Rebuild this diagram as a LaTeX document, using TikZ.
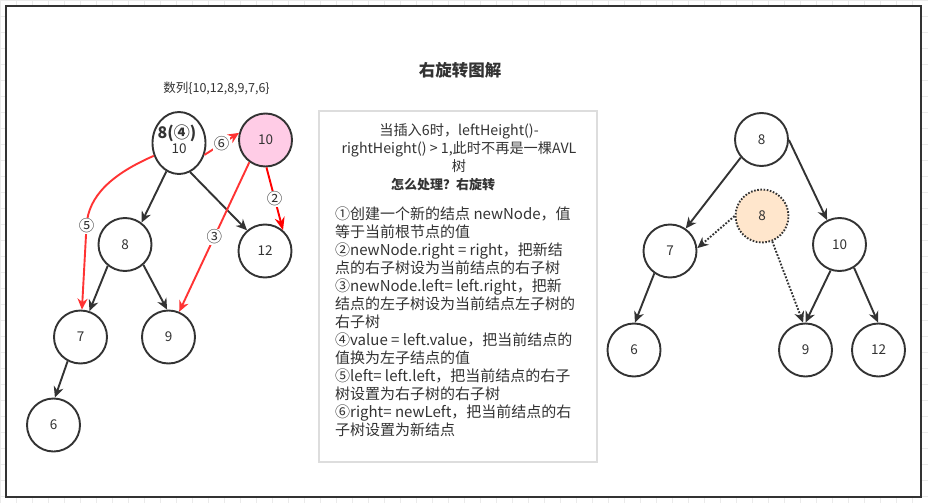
\documentclass[tikz,border=0pt]{standalone}
\usepackage{fontspec}
\setmainfont{Noto Sans CJK SC}
\usetikzlibrary{arrows.meta, shapes.geometric}

\definecolor{linegray}{HTML}{333333}
\definecolor{stepred}{HTML}{FF3333}
\definecolor{pinkfill}{HTML}{FFCCE6}
\definecolor{peachfill}{HTML}{FFE6CC}
\definecolor{boxgray}{HTML}{DDDDDD}
\definecolor{gridgray}{HTML}{EBEBEB}

\tikzset{
  treenode/.style={circle, draw=linegray, line width=1.9pt, minimum size=53pt, inner sep=0pt, text=linegray, font=\fontsize{13.5}{16}\selectfont},
  treeedge/.style={draw=linegray, line width=1.9pt, -{Stealth[length=11pt,width=10pt]}},
  movededge/.style={treeedge, dash pattern=on 1.8pt off 1.6pt},
  stepedge/.style={draw=stepred, line width=1.9pt, -{Stealth[length=11pt,width=10pt]}},
  steplabel/.style={fill=white, inner sep=1pt, text=linegray, font=\fontsize{15.5}{17}\selectfont},
  notetext/.style={inner sep=0pt, text=linegray},
}

\begin{document}
\begin{tikzpicture}[x=1pt, y=-1pt]
    \useasboundingbox (0,0) rectangle (928,503);

    % Background grid and frame
    \draw[gridgray, line width=0.6pt, step=16pt] (0,0) grid (928,503);
    \draw[linegray, line width=2pt, fill=white] (6,6) rectangle (921,497);

    \node[notetext, font=\bfseries\fontsize{16.5}{18}\selectfont] (title) at (460,70) {右旋转图解};
    \node[notetext, font=\fontsize{12.5}{15}\selectfont] (sequence) at (216.5,88) {数列\{10,12,8,9,7,6\}};

    % Left tree, before the rotation
    \node[treenode, ellipse, minimum width=53pt, minimum height=62pt] (root) at (179,143) {};
    \node[notetext, font=\bfseries\fontsize{16}{18}\selectfont] (rootnew) at (177,133) {8(④)};
    \node[notetext, font=\fontsize{13.5}{16}\selectfont] (rootold) at (179,149) {10};
    \node[treenode, fill=pinkfill] (newnode) at (265.5,140) {10};
    \node[treenode] (l8) at (125,244.5) {8};
    \node[treenode] (l12) at (265,251) {12};
    \node[treenode] (l7) at (80.5,337) {7};
    \node[treenode] (l9) at (168.5,337) {9};
    \node[treenode] (l6) at (53.5,425) {6};

    \draw[treeedge] (root.-114) -- (l8.53);
    \draw[treeedge] (root.-69) -- (l12.131);
    \draw[treeedge] (l8.-129) -- (l7.71);
    \draw[treeedge] (l8.-48) -- (l9.93);
    \draw[treeedge] (l7.-118) -- (l6.87);

    % Steps of the rotation
    \draw[stepedge] (root.-25) -- node[steplabel] {⑥} (newnode.165);
    \draw[stepedge, draw=red, -{Stealth[length=13pt,width=10pt]}] (newnode.-88) -- node[steplabel] {②} (l12.49);
    \draw[stepedge] (newnode.-126) -- node[steplabel] {③} (l9.67);
    \draw[stepedge] (root.-153) .. controls (112,174) and (88,196) .. (86.5,226) node[steplabel] {⑤} -- (l7.87);

    % Notes
    \draw[boxgray, line width=1.5pt] (319,111) rectangle (597,462);
    \node[notetext, align=center, anchor=north, font=\fontsize{14.2}{18}\selectfont] (question) at (459,123)
        {当插入6时，leftHeight()-\\rightHeight() > 1,此时不再是一棵AVL\\树};
    \node[notetext, font=\bfseries\fontsize{13}{15}\selectfont] (answer) at (443,185) {怎么处理？右旋转};
    \node[notetext, align=left, anchor=north west, font=\fontsize{15}{18}\selectfont] (steps) at (335,207)
        {①创建一个新的结点 newNode，值\\
         等于当前根节点的值\\
         ②newNode.right = right，把新结\\
         点的右子树设为当前结点的右子树\\
         ③newNode.left= left.right，把新\\
         结点的左子树设为当前结点左子树的\\
         右子树\\
         ④value = left.value，把当前结点的\\
         值换为左子结点的值\\
         ⑤left= left.left，把当前结点的右子\\
         树设置为右子树的右子树\\
         ⑥right= newLeft，把当前结点的右\\
         子树设置为新结点};

    % Right tree, after the rotation
    \node[treenode] (r8) at (761.5,139.5) {8};
    \node[treenode, fill=peachfill, dash pattern=on 1.6pt off 1.6pt] (copy8) at (762,216) {8};
    \node[treenode] (r7) at (670,251) {7};
    \node[treenode] (r10) at (839.5,244.5) {10};
    \node[treenode] (r6) at (634,350) {6};
    \node[treenode] (r9) at (805.5,350) {9};
    \node[treenode] (r12) at (878.5,350) {12};

    \draw[treeedge] (r8.-139) -- (r7.55);
    \draw[treeedge] (r8.-1) -- (r10.117);
    \draw[treeedge] (r7.-125) -- (r6.88);
    \draw[treeedge] (r10.-109) -- (r9.90);
    \draw[treeedge] (r10.-58) -- (r12.91);
    \draw[movededge] (copy8.180) -- (r7.6);
    \draw[movededge] (copy8.-68) -- (r9.95);

\end{tikzpicture}
\end{document}
